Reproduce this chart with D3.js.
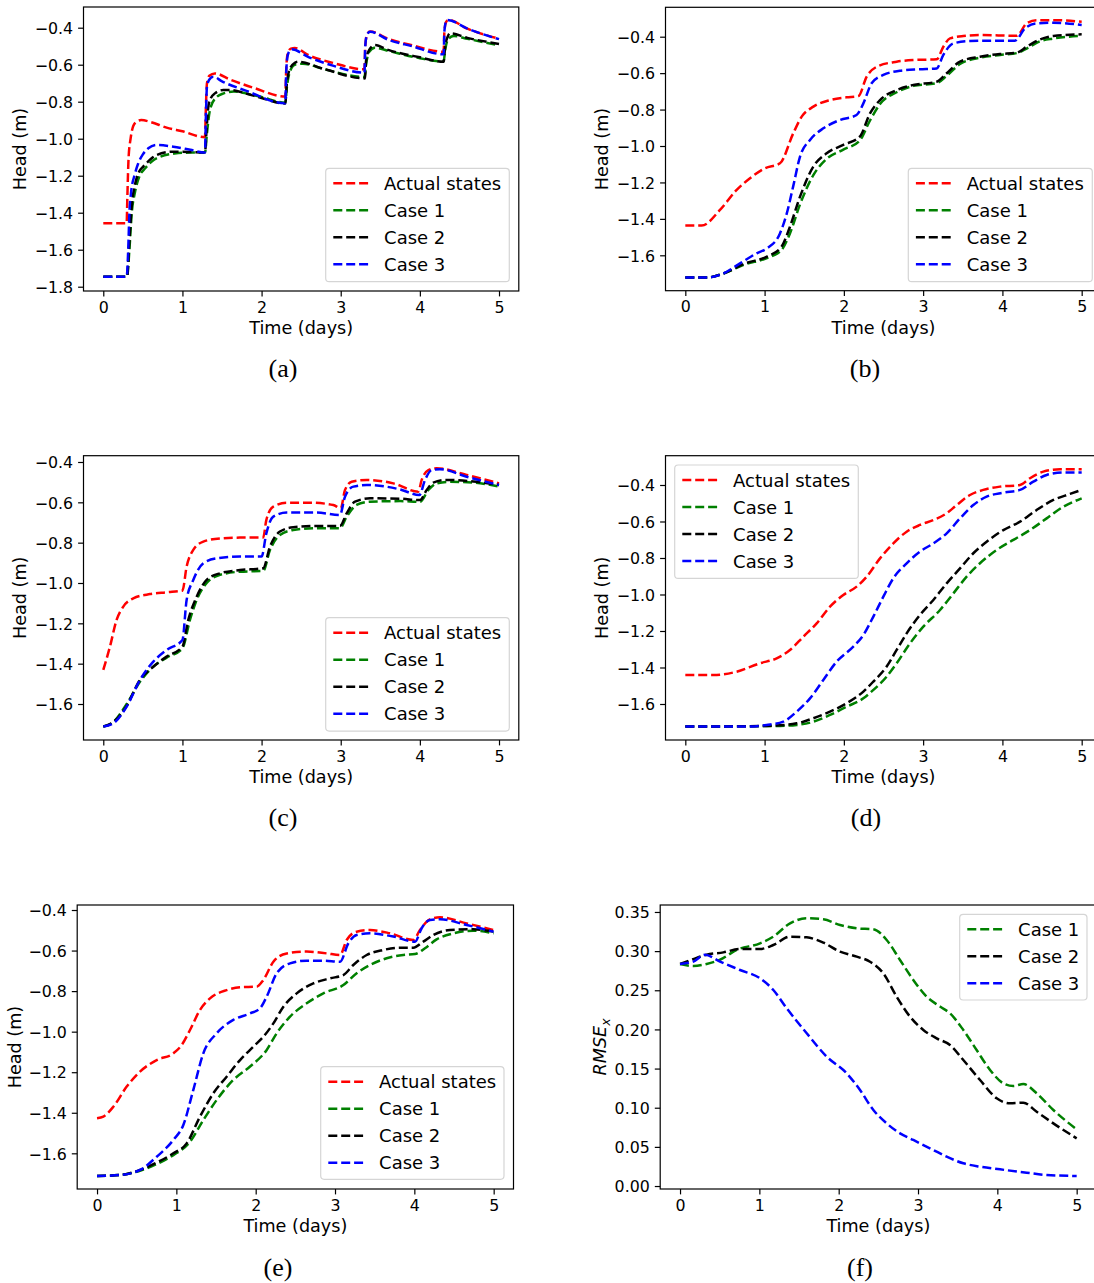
<!DOCTYPE html>
<html><head><meta charset="utf-8">
<script src="https://cdn.jsdelivr.net/npm/d3@7"></script>
<style>body{margin:0;background:#fff;} svg{display:block;}</style>
</head><body>
<svg id="fig" width="1094" height="1283"></svg>
<script>
// ---------------- data ----------------
const timeTicks = [0, 1, 2, 3, 4, 5];
const headTicksA = [-1.8, -1.6, -1.4, -1.2, -1.0, -0.8, -0.6, -0.4];
const headTicks = [-1.6, -1.4, -1.2, -1.0, -0.8, -0.6, -0.4];
const rmseTicks = [0.00, 0.05, 0.10, 0.15, 0.20, 0.25, 0.30, 0.35];
const seriesNames = ["Actual states", "Case 1", "Case 2", "Case 3"];
const captions = ["(a)", "(b)", "(c)", "(d)", "(e)", "(f)"];

// panel (a)
const a_actual = [[0,-1.457],[0.295,-1.457],[0.305,-1.30],[0.32,-1.10],[0.345,-1.0],[0.38,-0.93],[0.43,-0.905],[0.48,-0.899],[0.6,-0.91],[0.8,-0.94],[1.0,-0.96],[1.285,-0.992],[1.295,-0.85],[1.31,-0.70],[1.34,-0.66],[1.41,-0.647],[1.6,-0.68],[1.9,-0.725],[2.3,-0.772],[2.31,-0.64],[2.33,-0.54],[2.37,-0.513],[2.42,-0.51],[2.6,-0.55],[2.9,-0.59],[3.3,-0.625],[3.31,-0.50],[3.33,-0.44],[3.37,-0.42],[3.6,-0.46],[3.9,-0.495],[4.3,-0.53],[4.31,-0.42],[4.33,-0.37],[4.36,-0.358],[4.6,-0.405],[5.0,-0.46]];
const a_case1 = [[0,-1.746],[0.3,-1.746],[0.33,-1.60],[0.36,-1.40],[0.40,-1.29],[0.46,-1.20],[0.53,-1.16],[0.62,-1.12],[0.72,-1.097],[0.9,-1.08],[1.1,-1.075],[1.285,-1.075],[1.31,-0.97],[1.35,-0.84],[1.42,-0.78],[1.52,-0.755],[1.65,-0.745],[1.8,-0.755],[2.0,-0.775],[2.3,-0.805],[2.32,-0.72],[2.36,-0.635],[2.42,-0.60],[2.52,-0.595],[2.8,-0.625],[3.3,-0.667],[3.32,-0.60],[3.36,-0.53],[3.43,-0.508],[3.6,-0.525],[4.0,-0.565],[4.3,-0.583],[4.32,-0.52],[4.36,-0.46],[4.43,-0.445],[4.6,-0.46],[5.0,-0.496]];
const a_case2 = [[0,-1.746],[0.3,-1.746],[0.33,-1.55],[0.36,-1.36],[0.40,-1.25],[0.45,-1.18],[0.505,-1.151],[0.6,-1.11],[0.674,-1.088],[0.885,-1.07],[1.1,-1.072],[1.285,-1.075],[1.305,-0.95],[1.327,-0.827],[1.36,-0.78],[1.41,-0.755],[1.516,-0.737],[1.6,-0.737],[1.8,-0.755],[2.0,-0.78],[2.3,-0.81],[2.32,-0.70],[2.36,-0.62],[2.42,-0.59],[2.464,-0.584],[2.8,-0.625],[3.307,-0.674],[3.32,-0.58],[3.36,-0.52],[3.43,-0.494],[3.6,-0.52],[4.0,-0.56],[4.3,-0.584],[4.32,-0.50],[4.35,-0.45],[4.38,-0.43],[4.6,-0.455],[5.0,-0.488]];
const a_case3 = [[0,-1.746],[0.295,-1.746],[0.315,-1.60],[0.33,-1.40],[0.35,-1.295],[0.40,-1.19],[0.442,-1.133],[0.5,-1.085],[0.569,-1.052],[0.674,-1.034],[0.885,-1.043],[1.1,-1.06],[1.285,-1.075],[1.295,-0.90],[1.31,-0.72],[1.34,-0.68],[1.39,-0.665],[1.5,-0.69],[1.8,-0.74],[2.3,-0.809],[2.31,-0.65],[2.33,-0.55],[2.36,-0.522],[2.38,-0.517],[2.6,-0.56],[2.9,-0.605],[3.3,-0.643],[3.31,-0.50],[3.33,-0.44],[3.37,-0.422],[3.6,-0.465],[3.9,-0.5],[4.3,-0.544],[4.31,-0.42],[4.33,-0.368],[4.35,-0.358],[4.6,-0.405],[5.0,-0.462]];

// panel (b)
const b_actual = [[0,-1.437],[0.206,-1.437],[0.437,-1.351],[0.648,-1.241],[0.816,-1.177],[1.005,-1.122],[1.194,-1.095],[1.362,-0.930],[1.468,-0.839],[1.615,-0.784],[1.825,-0.748],[2.035,-0.733],[2.183,-0.726],[2.288,-0.619],[2.414,-0.565],[2.666,-0.537],[2.876,-0.528],[3.171,-0.524],[3.255,-0.455],[3.339,-0.409],[3.507,-0.396],[3.717,-0.391],[4.18,-0.395],[4.306,-0.327],[4.432,-0.309],[4.643,-0.309],[5.0,-0.318]];
const b_case1 = [[0,-1.722],[0.27,-1.722],[0.48,-1.70],[0.75,-1.65],[1.03,-1.615],[1.215,-1.57],[1.32,-1.48],[1.447,-1.32],[1.615,-1.16],[1.783,-1.07],[1.993,-1.02],[2.2,-0.97],[2.33,-0.86],[2.456,-0.77],[2.666,-0.705],[2.876,-0.67],[3.171,-0.655],[3.297,-0.615],[3.465,-0.55],[3.717,-0.515],[3.97,-0.50],[4.18,-0.49],[4.306,-0.465],[4.474,-0.425],[4.643,-0.41],[5.0,-0.395]];
const b_case2 = [[0,-1.722],[0.27,-1.722],[0.48,-1.70],[0.75,-1.645],[1.03,-1.607],[1.215,-1.552],[1.32,-1.443],[1.447,-1.278],[1.615,-1.113],[1.783,-1.04],[1.993,-0.994],[2.2,-0.949],[2.33,-0.821],[2.456,-0.748],[2.666,-0.693],[2.876,-0.665],[3.171,-0.647],[3.297,-0.601],[3.465,-0.537],[3.717,-0.51],[3.97,-0.495],[4.18,-0.488],[4.306,-0.455],[4.474,-0.415],[4.643,-0.396],[5.0,-0.387]];
const b_case3 = [[0,-1.722],[0.27,-1.722],[0.48,-1.70],[0.69,-1.644],[0.9,-1.589],[1.03,-1.562],[1.194,-1.48],[1.28,-1.37],[1.36,-1.223],[1.447,-1.058],[1.573,-0.967],[1.741,-0.903],[1.951,-0.857],[2.16,-0.83],[2.246,-0.766],[2.35,-0.656],[2.498,-0.61],[2.708,-0.587],[2.96,-0.579],[3.171,-0.574],[3.255,-0.50],[3.381,-0.437],[3.591,-0.424],[3.885,-0.422],[4.158,-0.422],[4.285,-0.354],[4.43,-0.327],[4.643,-0.323],[5.0,-0.336]];

// panel (c)
const c_actual = [[0,-1.431],[0.084,-1.316],[0.168,-1.183],[0.253,-1.117],[0.379,-1.076],[0.59,-1.055],[0.8,-1.046],[1.0,-1.038],[1.053,-0.919],[1.137,-0.836],[1.264,-0.795],[1.474,-0.779],[1.727,-0.775],[2.02,-0.775],[2.06,-0.688],[2.148,-0.621],[2.317,-0.602],[2.612,-0.602],[2.906,-0.613],[3.0,-0.63],[3.054,-0.539],[3.138,-0.498],[3.328,-0.489],[3.665,-0.506],[3.98,-0.547],[4.023,-0.489],[4.107,-0.44],[4.212,-0.431],[4.591,-0.464],[5.0,-0.506]];
const c_case1 = [[0,-1.712],[0.126,-1.69],[0.295,-1.60],[0.463,-1.49],[0.632,-1.415],[0.8,-1.37],[1.0,-1.324],[1.095,-1.183],[1.18,-1.084],[1.306,-1.0],[1.474,-0.96],[1.727,-0.944],[2.02,-0.94],[2.106,-0.837],[2.232,-0.762],[2.4,-0.737],[2.696,-0.728],[2.99,-0.728],[3.075,-0.671],[3.2,-0.613],[3.37,-0.597],[3.75,-0.594],[4.002,-0.597],[4.107,-0.539],[4.212,-0.506],[4.38,-0.498],[4.676,-0.502],[5.0,-0.522]];
const c_case2 = [[0,-1.712],[0.126,-1.69],[0.295,-1.61],[0.463,-1.48],[0.632,-1.415],[0.8,-1.365],[1.0,-1.316],[1.074,-1.183],[1.18,-1.068],[1.306,-0.985],[1.474,-0.952],[1.727,-0.936],[2.02,-0.927],[2.106,-0.82],[2.232,-0.745],[2.4,-0.724],[2.696,-0.717],[2.99,-0.717],[3.075,-0.655],[3.18,-0.597],[3.37,-0.58],[3.75,-0.582],[4.002,-0.589],[4.086,-0.539],[4.17,-0.502],[4.339,-0.489],[4.676,-0.497],[5.0,-0.514]];
const c_case3 = [[0,-1.712],[0.126,-1.696],[0.295,-1.613],[0.463,-1.481],[0.632,-1.39],[0.8,-1.332],[1.0,-1.283],[1.053,-1.084],[1.137,-0.985],[1.264,-0.902],[1.432,-0.878],[1.727,-0.869],[2.0,-0.869],[2.06,-0.754],[2.148,-0.671],[2.317,-0.651],[2.696,-0.651],[2.99,-0.663],[3.054,-0.572],[3.16,-0.522],[3.328,-0.514],[3.75,-0.536],[3.993,-0.564],[4.065,-0.489],[4.149,-0.44],[4.254,-0.436],[4.591,-0.473],[5.0,-0.514]];

// panel (d)
const d_actual = [[0,-1.441],[0.353,-1.441],[0.648,-1.423],[0.942,-1.377],[1.152,-1.35],[1.32,-1.304],[1.489,-1.231],[1.657,-1.158],[1.825,-1.067],[1.993,-1.003],[2.161,-0.957],[2.288,-0.902],[2.456,-0.802],[2.624,-0.72],[2.792,-0.656],[2.96,-0.619],[3.129,-0.592],[3.297,-0.555],[3.423,-0.51],[3.591,-0.455],[3.759,-0.427],[3.97,-0.409],[4.222,-0.40],[4.348,-0.363],[4.516,-0.327],[4.727,-0.314],[5.0,-0.314]];
const d_case1 = [[0,-1.724],[1.194,-1.72],[1.405,-1.715],[1.615,-1.697],[1.825,-1.66],[2.035,-1.615],[2.246,-1.569],[2.372,-1.523],[2.54,-1.45],[2.666,-1.377],[2.834,-1.268],[3.002,-1.176],[3.213,-1.085],[3.381,-0.994],[3.549,-0.902],[3.717,-0.829],[3.928,-0.756],[4.138,-0.701],[4.348,-0.647],[4.558,-0.583],[4.769,-0.519],[5.0,-0.473]];
const d_case2 = [[0,-1.724],[1.026,-1.72],[1.405,-1.706],[1.615,-1.678],[1.825,-1.642],[2.035,-1.596],[2.246,-1.532],[2.372,-1.477],[2.54,-1.395],[2.666,-1.304],[2.792,-1.213],[2.96,-1.112],[3.129,-1.03],[3.297,-0.939],[3.465,-0.857],[3.633,-0.774],[3.801,-0.711],[4.012,-0.647],[4.222,-0.601],[4.432,-0.537],[4.643,-0.482],[4.853,-0.449],[5.0,-0.427]];
const d_case3 = [[0,-1.724],[0.774,-1.724],[1.026,-1.715],[1.236,-1.697],[1.405,-1.642],[1.573,-1.569],[1.741,-1.468],[1.909,-1.368],[2.119,-1.286],[2.246,-1.222],[2.372,-1.121],[2.498,-1.012],[2.624,-0.911],[2.792,-0.829],[2.96,-0.765],[3.129,-0.72],[3.297,-0.665],[3.465,-0.583],[3.633,-0.51],[3.801,-0.464],[4.012,-0.442],[4.222,-0.427],[4.39,-0.382],[4.558,-0.345],[4.769,-0.331],[5.0,-0.331]];

// panel (e)
const e_actual = [[0,-1.427],[0.08,-1.419],[0.206,-1.37],[0.374,-1.271],[0.542,-1.197],[0.752,-1.14],[0.962,-1.107],[1.067,-1.066],[1.172,-0.992],[1.298,-0.893],[1.424,-0.836],[1.634,-0.795],[1.803,-0.781],[2.013,-0.778],[2.097,-0.745],[2.223,-0.655],[2.391,-0.614],[2.643,-0.605],[2.895,-0.614],[3.063,-0.622],[3.147,-0.548],[3.273,-0.507],[3.441,-0.499],[3.693,-0.515],[3.987,-0.548],[4.071,-0.499],[4.197,-0.446],[4.324,-0.436],[4.66,-0.466],[5.0,-0.499]];
const e_case1 = [[0,-1.712],[0.29,-1.707],[0.542,-1.686],[0.752,-1.653],[0.962,-1.609],[1.172,-1.543],[1.34,-1.436],[1.508,-1.337],[1.718,-1.238],[1.929,-1.172],[2.139,-1.09],[2.265,-1.008],[2.433,-0.926],[2.643,-0.86],[2.853,-0.811],[3.105,-0.77],[3.273,-0.712],[3.441,-0.671],[3.651,-0.638],[3.861,-0.622],[4.008,-0.617],[4.134,-0.589],[4.281,-0.545],[4.492,-0.515],[4.744,-0.502],[5.0,-0.515]];
const e_case2 = [[0,-1.712],[0.29,-1.707],[0.542,-1.682],[0.752,-1.646],[0.962,-1.60],[1.13,-1.551],[1.298,-1.419],[1.466,-1.304],[1.634,-1.222],[1.803,-1.14],[1.971,-1.074],[2.097,-1.025],[2.223,-0.959],[2.349,-0.877],[2.517,-0.811],[2.727,-0.762],[2.937,-0.737],[3.105,-0.721],[3.231,-0.671],[3.399,-0.622],[3.609,-0.597],[3.819,-0.586],[3.987,-0.586],[4.113,-0.556],[4.239,-0.523],[4.45,-0.499],[4.744,-0.495],[5.0,-0.507]];
const e_case3 = [[0,-1.712],[0.29,-1.707],[0.542,-1.682],[0.752,-1.617],[0.962,-1.534],[1.088,-1.46],[1.214,-1.287],[1.34,-1.107],[1.508,-1.008],[1.718,-0.942],[1.929,-0.91],[2.055,-0.885],[2.139,-0.827],[2.265,-0.712],[2.433,-0.663],[2.643,-0.65],[2.853,-0.65],[3.063,-0.655],[3.168,-0.564],[3.273,-0.523],[3.441,-0.515],[3.735,-0.531],[4.008,-0.556],[4.092,-0.49],[4.197,-0.449],[4.324,-0.446],[4.66,-0.474],[5.0,-0.507]];

// panel (f)
const f_case1 = [[0,0.2836],[0.168,0.281],[0.336,0.2836],[0.504,0.289],[0.714,0.3015],[1.008,0.310],[1.176,0.3185],[1.387,0.3355],[1.597,0.342],[1.807,0.3406],[2.017,0.3334],[2.227,0.3291],[2.437,0.3279],[2.605,0.3142],[2.773,0.2887],[2.941,0.2631],[3.109,0.2418],[3.277,0.2292],[3.403,0.2206],[3.571,0.1993],[3.739,0.1737],[3.908,0.1482],[4.076,0.1311],[4.202,0.1277],[4.328,0.1303],[4.496,0.1184],[4.706,0.0971],[5.0,0.0724]];
const f_case2 = [[0,0.2836],[0.168,0.2898],[0.336,0.2954],[0.546,0.2984],[0.756,0.3027],[1.008,0.3027],[1.176,0.3078],[1.387,0.3185],[1.597,0.3176],[1.807,0.3108],[2.017,0.2993],[2.227,0.2929],[2.395,0.2865],[2.563,0.2716],[2.731,0.2418],[2.899,0.2163],[3.067,0.1993],[3.235,0.1886],[3.403,0.1801],[3.571,0.1609],[3.782,0.1354],[3.992,0.112],[4.16,0.1056],[4.328,0.1064],[4.496,0.0949],[4.706,0.080],[5.0,0.0609]];
const f_case3 = [[0,0.2836],[0.168,0.2866],[0.315,0.2954],[0.504,0.2866],[0.756,0.2759],[1.008,0.2653],[1.176,0.2504],[1.345,0.2269],[1.597,0.1951],[1.849,0.1652],[2.101,0.1439],[2.269,0.1226],[2.437,0.0971],[2.605,0.080],[2.773,0.0673],[2.941,0.0588],[3.193,0.046],[3.361,0.0375],[3.571,0.029],[3.782,0.0247],[4.034,0.0213],[4.37,0.017],[4.622,0.0141],[5.0,0.0128]];

// ---------------- styling / layout ----------------
const colorOf = {"Actual states":"#ff0000","Case 1":"#008000","Case 2":"#000000","Case 3":"#0000ff"};
const TICK_FS = 15.8, LABEL_FS = 17.6, LEG_FS = 18;
const LW = 2.5, DASH = "9,3.9";

const panels = [
  {frame:{l:83.5,r:518.8,t:7,b:291}, yDom:[-1.8232,-0.2881], yTicks:headTicksA, fmt:"head",
   series:[a_actual,a_case1,a_case2,a_case3], names:seriesNames, legend:{x:325.7,y:168.3,w:183.6,h:113.4},
   yl:{x:26,text:"Head (m)"}, cap:{x:283,y:369}},
  {frame:{l:665.5,r:1101.5,t:7.3,b:290.7}, yDom:[-1.7943,-0.2386], yTicks:headTicks, fmt:"head",
   series:[b_actual,b_case1,b_case2,b_case3], names:seriesNames, legend:{x:908.3,y:168.3,w:184,h:113.4},
   yl:{x:608,text:"Head (m)"}, cap:{x:865,y:369}},
  {frame:{l:83.5,r:518.8,t:455.7,b:740}, yDom:[-1.7785,-0.3688], yTicks:headTicks, fmt:"head",
   series:[c_actual,c_case1,c_case2,c_case3], names:seriesNames, legend:{x:325.7,y:617.7,w:183.6,h:113.4},
   yl:{x:26,text:"Head (m)"}, cap:{x:283,y:818}},
  {frame:{l:665.5,r:1101.5,t:455.7,b:740}, yDom:[-1.7973,-0.2395], yTicks:headTicks, fmt:"head",
   series:[d_actual,d_case1,d_case2,d_case3], names:seriesNames, legend:{x:674.7,y:465,w:183.6,h:113.4},
   yl:{x:608,text:"Head (m)"}, cap:{x:866,y:818}},
  {frame:{l:77.2,r:513.5,t:905,b:1189}, yDom:[-1.776,-0.3753], yTicks:headTicks, fmt:"head",
   series:[e_actual,e_case1,e_case2,e_case3], names:seriesNames, legend:{x:320.7,y:1066.7,w:183.3,h:112.6},
   yl:{x:20.5,text:"Head (m)"}, cap:{x:278,y:1268}},
  {frame:{l:660.2,r:1096.5,t:905,b:1189}, yDom:[-0.0038,0.3589], yTicks:rmseTicks, fmt:"rmse",
   series:[f_case1,f_case2,f_case3], names:seriesNames.slice(1), legend:{x:959.7,y:914.3,w:127.3,h:85.7},
   yl:{x:606,text:"RMSE"}, cap:{x:860,y:1268}}
];

const svg = d3.select("#fig");
const fontSans = "DejaVu Sans, sans-serif";
const fmtHead = v => d3.format(".1f")(v).replace("-", "\u2212");
const fmtRmse = v => d3.format(".2f")(v);

panels.forEach((p, i) => {
  const f = p.frame;
  const x = d3.scaleLinear().domain([-0.25, 5.25]).range([f.l, f.r]);
  const y = d3.scaleLinear().domain(p.yDom).range([f.b, f.t]);
  const g = svg.append("g");

  const clipId = "clip" + i;
  svg.append("defs").append("clipPath").attr("id", clipId)
    .append("rect").attr("x", f.l).attr("y", f.t).attr("width", f.r - f.l).attr("height", f.b - f.t);

  const line = d3.line().x(d => x(d[0])).y(d => y(d[1])).curve(d3.curveMonotoneX);
  const lg = g.append("g").attr("clip-path", `url(#${clipId})`);
  p.series.forEach((s, k) => {
    lg.append("path").attr("d", line(s)).attr("fill", "none")
      .attr("stroke", colorOf[p.names[k]]).attr("stroke-width", LW)
      .attr("stroke-dasharray", DASH);
  });

  // axes
  const fmt = p.fmt === "head" ? fmtHead : fmtRmse;
  const xAxis = d3.axisBottom(x).tickValues(timeTicks).tickFormat(d3.format("d")).tickSizeOuter(0).tickSize(5.4).tickPadding(5);
  const yAxis = d3.axisLeft(y).tickValues(p.yTicks).tickFormat(fmt).tickSizeOuter(0).tickSize(5.4).tickPadding(5);
  const gx = g.append("g").attr("transform", `translate(0,${f.b})`).call(xAxis);
  const gy = g.append("g").attr("transform", `translate(${f.l},0)`).call(yAxis);
  [gx, gy].forEach(a => {
    a.select(".domain").remove();
    a.selectAll(".tick line").attr("stroke", "#000").attr("stroke-width", 1.2);
    a.selectAll(".tick text").attr("font-family", fontSans).attr("font-size", TICK_FS).attr("fill", "#000");
  });
  gx.selectAll(".tick text").attr("dy", "0.72em");
  gy.selectAll(".tick text").attr("dy", "0.36em");

  // frame
  g.append("rect").attr("x", f.l).attr("y", f.t).attr("width", f.r - f.l).attr("height", f.b - f.t)
    .attr("fill", "none").attr("stroke", "#000").attr("stroke-width", 1.2);

  // x label
  g.append("text").attr("x", (f.l + f.r) / 2).attr("y", f.b + 43)
    .attr("text-anchor", "middle").attr("font-family", fontSans).attr("font-size", LABEL_FS)
    .text("Time (days)");

  // y label
  const yc = (f.t + f.b) / 2;
  const yt = g.append("text").attr("transform", `translate(${p.yl.x},${yc}) rotate(-90)`)
    .attr("text-anchor", "middle").attr("font-family", fontSans).attr("font-size", LABEL_FS);
  if (p.fmt === "rmse") {
    yt.append("tspan").attr("font-style", "italic").text("RMSE");
    yt.append("tspan").attr("font-style", "italic").attr("font-size", LABEL_FS * 0.7).attr("dy", 3.5).text("x");
  } else {
    yt.text(p.yl.text);
  }

  // legend
  const L = p.legend;
  const lgd = g.append("g");
  lgd.append("rect").attr("x", L.x).attr("y", L.y).attr("width", L.w).attr("height", L.h)
    .attr("rx", 3.5).attr("ry", 3.5).attr("fill", "#fff").attr("fill-opacity", 0.8)
    .attr("stroke", "#d5d5d5").attr("stroke-width", 1.2);
  p.names.forEach((n, k) => {
    const ry = L.y + 15 + k * 27;
    lgd.append("line").attr("x1", L.x + 7.6).attr("x2", L.x + 43.6).attr("y1", ry).attr("y2", ry)
      .attr("stroke", colorOf[n]).attr("stroke-width", LW).attr("stroke-dasharray", DASH);
    lgd.append("text").attr("x", L.x + 58.4).attr("y", ry + 6.5)
      .attr("font-family", fontSans).attr("font-size", LEG_FS).text(n);
  });

  // caption
  svg.append("text").attr("x", p.cap.x).attr("y", p.cap.y).attr("dy", "0.32em")
    .attr("text-anchor", "middle").attr("font-family", "Liberation Serif, DejaVu Serif, serif")
    .attr("font-size", 26).text(captions[i]);
});
</script>
</body></html>
